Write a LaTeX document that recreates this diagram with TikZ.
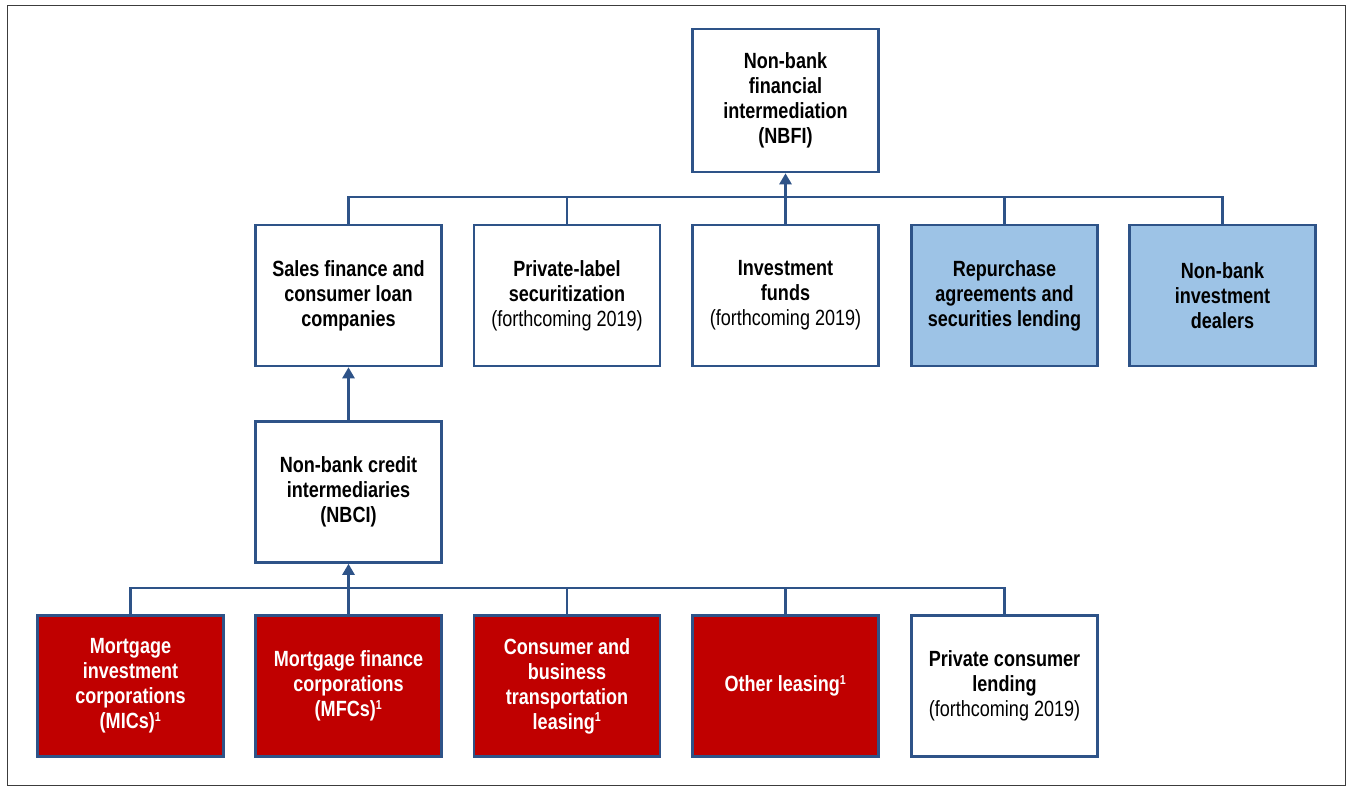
\documentclass[tikz,border=0pt]{standalone}
\usepackage{fontspec}
\setmainfont{Liberation Sans}[FakeStretch=0.82]
\usetikzlibrary{arrows.meta}
\definecolor{navy}{HTML}{2E5388}
\definecolor{lblue}{HTML}{9DC3E6}
\definecolor{dred}{HTML}{C00000}
\definecolor{framec}{HTML}{3C3C3C}
\newcommand{\fnm}{\textsuperscript{\fontsize{13}{13}\selectfont 1}}
\begin{document}
\begin{tikzpicture}[x=1pt,y=-1pt,
  box/.style={draw=navy,line width=2.6pt,minimum width=186pt,minimum height=141pt,
    align=center,inner sep=0pt,font=\fontsize{22}{25}\selectfont\bfseries},
  wbox/.style={box,fill=white,text=black},
  bbox/.style={box,fill=lblue,text=black},
  rbox/.style={box,fill=dred,text=white},
  conn/.style={draw=navy,line width=2.6pt},
  arr/.style={conn,-{Triangle[width=12pt,length=11pt]}}
]
\useasboundingbox (0,0) rectangle (1348,787);
\draw[framec,line width=1.6pt] (7.5,5.5) rectangle (1345.5,785.5);

\node[wbox,minimum height=143pt] (top) at (785.5,100.5) {Non-bank\\financial\\intermediation\\(NBFI)};

\node[wbox] (s1) at (348.5,295.5) {Sales finance and\\consumer loan\\companies};
\node[wbox] (s2) at (567,295.5) {Private-label\\securitization\\{\mdseries (forthcoming 2019)}};
\node[wbox] (s3) at (785.5,295.5) {Investment\\funds\\{\mdseries (forthcoming 2019)}};
\node[bbox] (s4) at (1004.5,295.5) {Repurchase\\agreements and\\securities lending};
\node[bbox] (s5) at (1222.5,295.5) {Non-bank\\investment\\dealers};

\node[wbox] (nbci) at (348.5,492) {Non-bank credit\\intermediaries\\(NBCI)};

\node[rbox] (b1) at (130.5,686) {Mortgage\\investment\\corporations\\(MICs)\fnm};
\node[rbox] (b2) at (348.5,686) {Mortgage finance\\corporations\\(MFCs)\fnm};
\node[rbox] (b3) at (567,686) {Consumer and\\business\\transportation\\leasing\fnm};
\node[rbox] (b4) at (785.5,686) {Other leasing\fnm};
\node[wbox] (b5) at (1004.5,686) {Private consumer\\lending\\{\mdseries (forthcoming 2019)}};

\coordinate (busT) at (0,197);
\coordinate (busB) at (0,588);

\draw[conn] (s1.north) -- (s1.north |- busT) -| (s5.north);
\draw[conn] (s2.north) -- (s2.north |- busT);
\draw[conn] (s4.north) -- (s4.north |- busT);
\draw[arr] (s3.north) -- (top.south);

\draw[arr] (nbci.north) -- (s1.south);

\draw[conn] (b1.north) -- (b1.north |- busB) -| (b5.north);
\draw[conn] (b3.north) -- (b3.north |- busB);
\draw[conn] (b4.north) -- (b4.north |- busB);
\draw[arr] (b2.north) -- (nbci.south);
\end{tikzpicture}
\end{document}
